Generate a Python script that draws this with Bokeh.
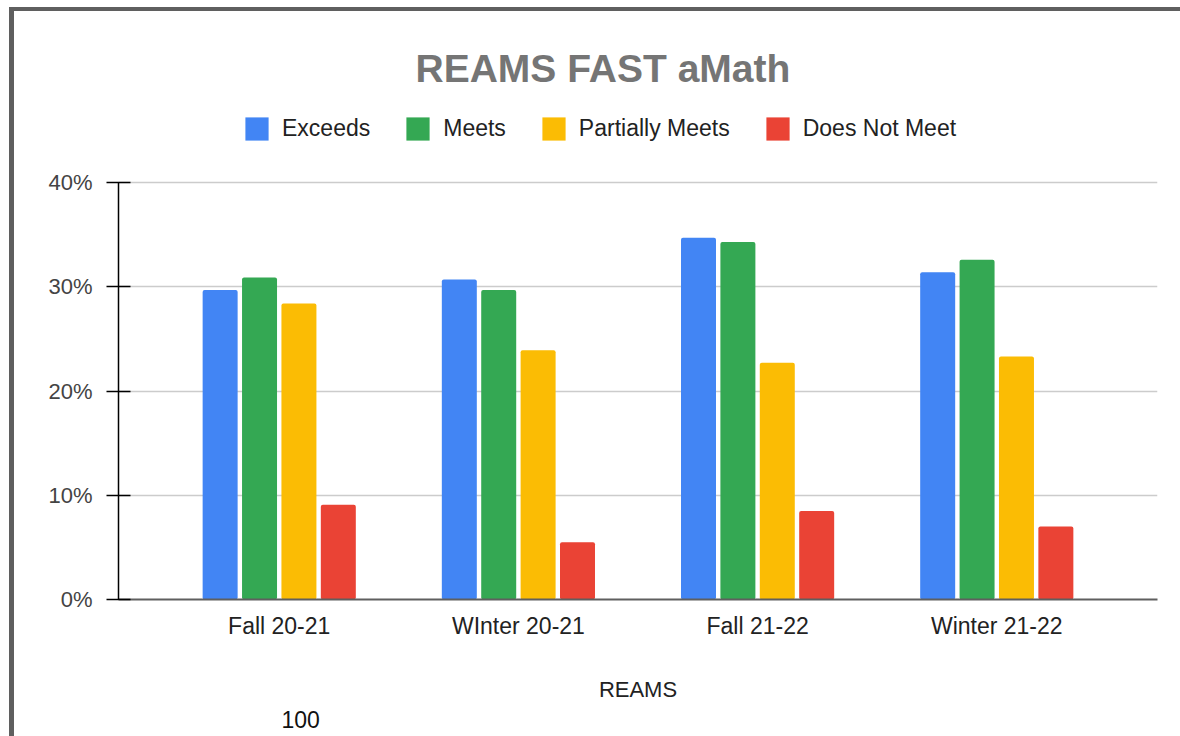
from bokeh.plotting import figure
from bokeh.models import (ColumnDataSource, FactorRange, Legend, LegendItem,
                          PrintfTickFormatter, FixedTicker, Title, Range1d)
from bokeh.transform import dodge
from bokeh.embed import file_html
from bokeh.resources import INLINE

# ---- data ----
categories = ["Fall 20-21", "WInter 20-21", "Fall 21-22", "Winter 21-22"]
series_names = ["Exceeds", "Meets", "Partially Meets", "Does Not Meet"]
exceeds = [29.7, 30.7, 34.7, 31.4]
meets = [30.9, 29.7, 34.3, 32.6]
partially_meets = [28.4, 23.9, 22.7, 23.3]
does_not_meet = [9.1, 5.5, 8.5, 7.0]
y_ticks = [0, 10, 20, 30, 40]
colors = ["#4285F4", "#34A853", "#FBBC04", "#EA4335"]

FONT = "Liberation Sans"

source = ColumnDataSource(data=dict(
    cat=categories,
    exceeds=exceeds,
    meets=meets,
    partial=partially_meets,
    dnm=does_not_meet,
))

# the plot frame extends above 40% so the legend can sit inside it
p = figure(
    x_range=FactorRange(factors=categories, range_padding=0.172,
                        range_padding_units="absolute"),
    y_range=Range1d(0, 47.87),
    width=1180, height=736,
    output_backend="svg", toolbar_location=None,
    min_border_left=118, min_border_right=23,
    min_border_top=100, min_border_bottom=137,
    background_fill_color="white",
)
p.border_fill_color = None
p.outline_line_color = None
p.styles = {"box-shadow": "inset 9px 7px 0 0 #ffffff, inset 14px 11px 0 0 #5f5f5f",
            "background-color": "#ffffff"}

pitch = 0.1647
bw = 0.1463
cols = ["exceeds", "meets", "partial", "dnm"]
renderers = []
for i, (c, col) in enumerate(zip(cols, colors)):
    r = p.vbar(x=dodge("cat", (i - 1.5) * pitch, range=p.x_range), top=c,
               width=bw, source=source, fill_color=col, line_color=None,
               border_radius=2)
    renderers.append(r)

legend = Legend(
    items=[LegendItem(label=n, renderers=[r]) for n, r in zip(series_names, renderers)],
    orientation="horizontal", location=(124, 456),
    glyph_width=29, glyph_height=29, label_standoff=11, spacing=33,
    padding=0, margin=0, border_line_color=None, background_fill_alpha=0,
    label_text_font=FONT, label_text_font_size="23px", label_text_color="#222222",
)
p.add_layout(legend, "center")

# title
p.title.text = "REAMS FAST aMath"
p.title.text_font = FONT
p.title.text_font_size = "39px"
p.title.text_font_style = "bold"
p.title.text_color = "#757575"
p.title.align = "left"
p.title.offset = 297
p.title.standoff = 22

# y axis
p.yaxis.ticker = FixedTicker(ticks=y_ticks)
p.yaxis.bounds = (0, 40)
p.yaxis.formatter = PrintfTickFormatter(format="%d%%")
p.yaxis.axis_line_color = "black"
p.yaxis.axis_line_width = 1.5
p.yaxis.major_tick_in = 12
p.yaxis.major_tick_out = 12
p.yaxis.major_tick_line_color = "black"
p.yaxis.major_tick_line_width = 1.5
p.yaxis.minor_tick_line_color = None
p.yaxis.major_label_text_font = FONT
p.yaxis.major_label_text_font_size = "22px"
p.yaxis.major_label_text_color = "#444444"
p.yaxis.major_label_standoff = 14

# x axis
p.xaxis.axis_line_color = "#5f5f5f"
p.xaxis.axis_line_width = 2
p.xaxis.major_tick_line_color = None
p.xaxis.minor_tick_line_color = None
p.xaxis.major_label_text_font = FONT
p.xaxis.major_label_text_font_size = "23px"
p.xaxis.major_label_text_color = "#222222"
p.xaxis.major_label_standoff = 7
p.xaxis.axis_label = "REAMS"
p.xaxis.axis_label_text_font = FONT
p.xaxis.axis_label_text_font_size = "22px"
p.xaxis.axis_label_text_font_style = "normal"
p.xaxis.axis_label_text_color = "#222222"
p.xaxis.axis_label_standoff = 35

# grid
p.xgrid.grid_line_color = None
p.ygrid.grid_line_color = "#cccccc"
p.ygrid.grid_line_width = 1.5

# text from the page below (partly visible in the reference)
p.add_layout(Title(text="100", align="left", offset=163, text_font=FONT,
                   text_font_size="23px", text_font_style="normal",
                   text_color="#111111", vertical_align="bottom", standoff=8),
             "below")

open("out.html", "w").write(file_html(p, INLINE))
